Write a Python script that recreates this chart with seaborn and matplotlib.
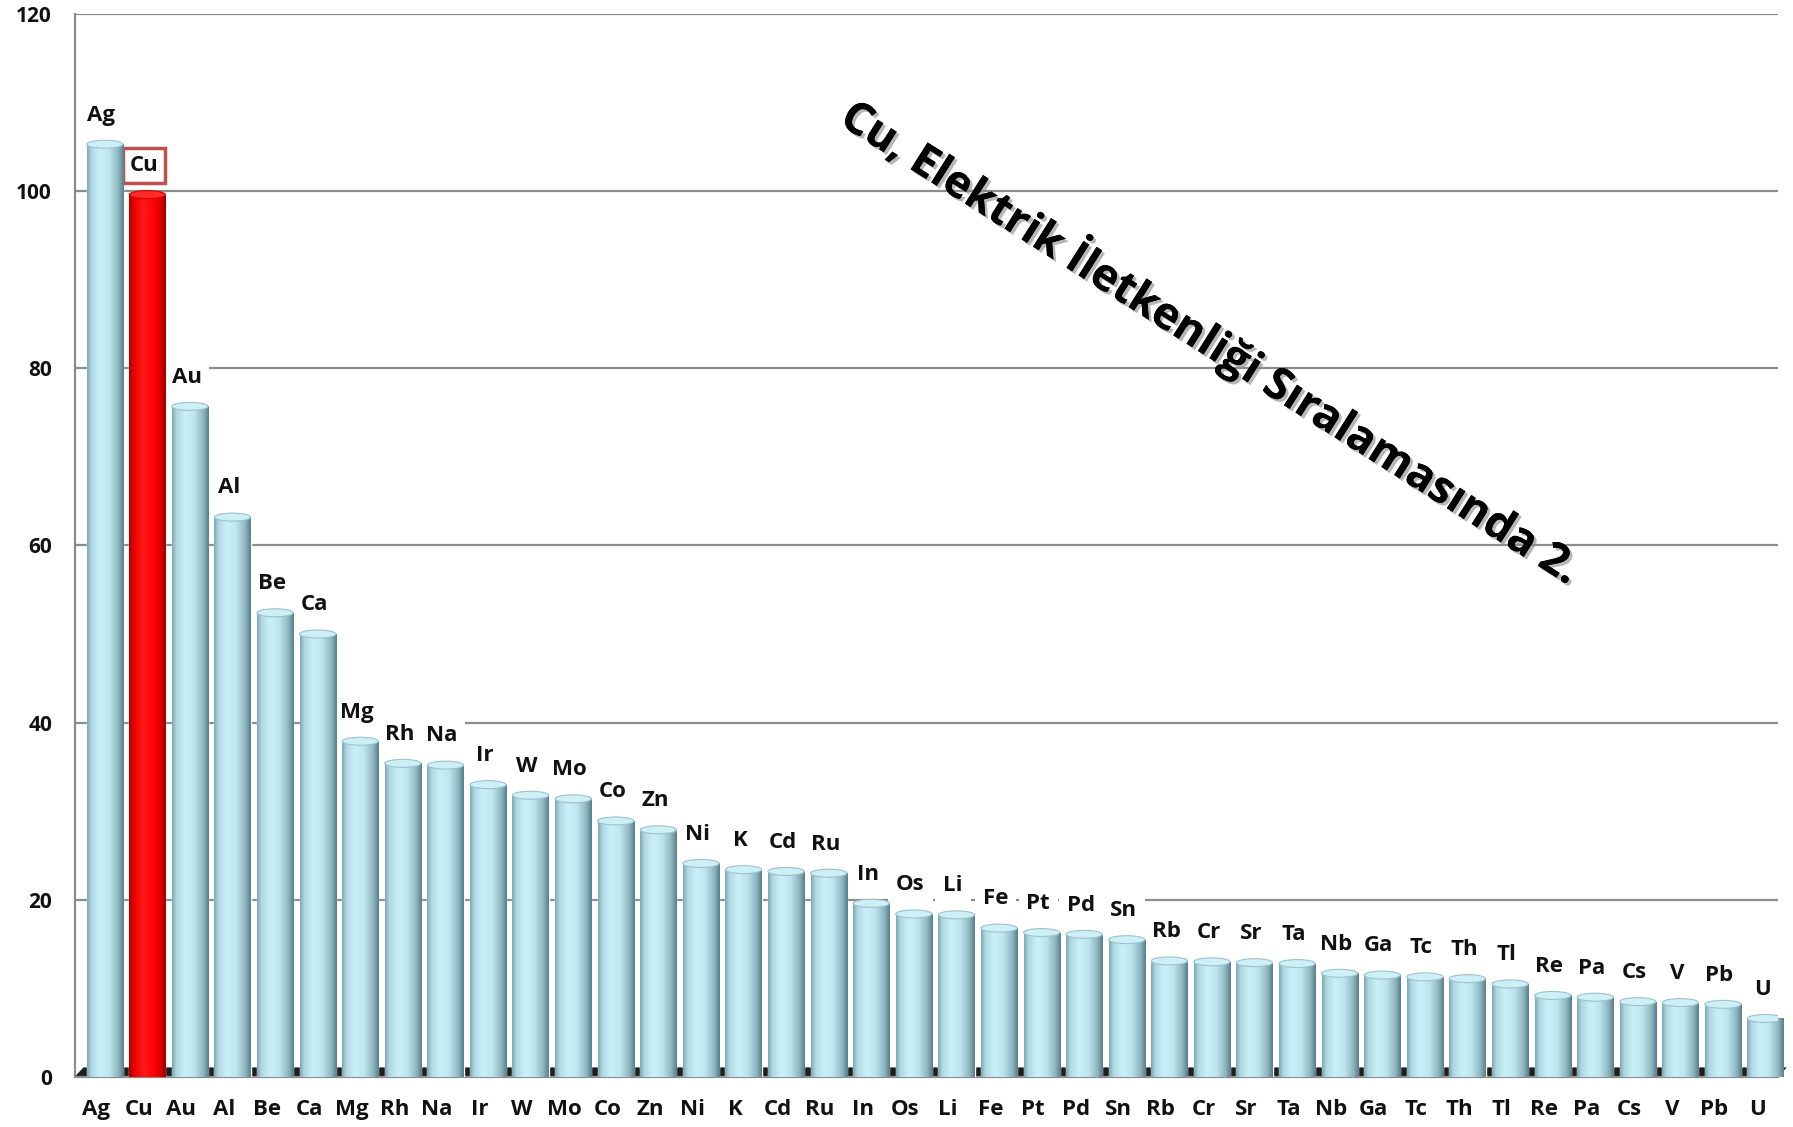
import numpy as np
import pandas as pd
import seaborn as sns
import matplotlib.pyplot as plt
import matplotlib.patheffects as pe
from matplotlib.colors import LinearSegmentedColormap
from matplotlib.patches import Ellipse, Polygon

# relative electrical conductivity (Cu ~ 100)
elements = ['Ag', 'Cu', 'Au', 'Al', 'Be', 'Ca', 'Mg', 'Rh', 'Na', 'Ir',
            'W', 'Mo', 'Co', 'Zn', 'Ni', 'K', 'Cd', 'Ru', 'In', 'Os',
            'Li', 'Fe', 'Pt', 'Pd', 'Sn', 'Rb', 'Cr', 'Sr', 'Ta', 'Nb',
            'Ga', 'Tc', 'Th', 'Tl', 'Re', 'Pa', 'Cs', 'V', 'Pb', 'U']
conductivity = [105.3, 99.6, 75.7, 63.2, 52.4, 50.0, 37.9, 35.4, 35.2, 33.0,
                31.8, 31.4, 28.9, 27.9, 24.1, 23.4, 23.2, 23.0, 19.6, 18.4,
                18.3, 16.8, 16.3, 16.1, 15.5, 13.1, 13.0, 12.9, 12.8, 11.7,
                11.5, 11.3, 11.1, 10.5, 9.2, 9.0, 8.5, 8.4, 8.2, 6.6]
highlight = 'Cu'
yticks = [0, 20, 40, 60, 80, 100, 120]
note = 'Cu, Elektrik İletkenliği Sıralamasında 2.'

sns.set_theme(style='white')
plt.rcParams['font.family'] = ['Open Sans', 'DejaVu Sans']

df = pd.DataFrame({'element': elements, 'value': conductivity})
palette = {e: ('#ff0000' if e == highlight else '#bfe6ef') for e in elements}

fig = plt.figure(figsize=(17.93, 11.27), dpi=100)
ax = fig.add_axes([0.0418, 0.0444, 0.95, 0.9432])

sns.barplot(data=df, x='element', y='value', hue='element', palette=palette,
            width=0.85, saturation=1, legend=False, ax=ax, zorder=3)

# cylinder look: horizontal gradient clipped to each bar + a cap on top
blue_cmap = LinearSegmentedColormap.from_list('cyl_blue', [
    (0.0, '#7ea6b1'), (0.12, '#afd8e2'), (0.35, '#c9f0f9'),
    (0.6, '#bde6ef'), (0.85, '#8db6c0'), (1.0, '#587e88')])
red_cmap = LinearSegmentedColormap.from_list('cyl_red', [
    (0.0, '#b00000'), (0.15, '#ee0000'), (0.4, '#ff1a1a'),
    (0.7, '#ff0000'), (0.9, '#cc0000'), (1.0, '#990000')])
grad = np.linspace(0, 1, 256).reshape(1, -1)

bars = sorted(list(ax.patches), key=lambda p: p.get_x())
for patch, el in zip(bars, elements):
    x0, w, h = patch.get_x(), patch.get_width(), patch.get_height()
    cmap = red_cmap if el == highlight else blue_cmap
    im = ax.imshow(grad, cmap=cmap, extent=(x0, x0 + w, 0, h), aspect='auto',
                   interpolation='bicubic', zorder=4)
    im.set_clip_path(patch)
    if el == highlight:
        cap_fc, cap_ec = '#ff2a2a', '#cc0000'
    else:
        cap_fc, cap_ec = '#cdeff6', '#9dc2cb'
    ax.add_patch(Ellipse((x0 + w / 2, h), w, 0.9, facecolor=cap_fc,
                         edgecolor=cap_ec, linewidth=0.8, zorder=5))

# labels above the bars (white box hides the gridlines behind them)
for i, (el, v) in enumerate(zip(elements, conductivity)):
    if el == highlight:
        bbox = dict(boxstyle='square,pad=0.3', facecolor='white',
                    edgecolor='#c0504d', linewidth=2.5)
    else:
        bbox = dict(boxstyle='square,pad=0.35', facecolor='white', edgecolor='none')
    ax.annotate(el, (i - 0.08, v), xytext=(0, 21), textcoords='offset points',
                ha='center', va='center', fontsize=16, fontweight='bold',
                color='#111111', bbox=bbox, zorder=3.5)

# dark floor under the bars
floor = Polygon([(-0.7, 0.0005), (39.3, 0.0005), (39.5, 0.009), (-0.5, 0.009)],
                closed=True, facecolor='#1e1e1e', edgecolor='none',
                transform=ax.get_xaxis_transform(), clip_on=False, zorder=2)
ax.add_patch(floor)

# the 3D wall puts the bars a bit to the right of the category labels
ax.set_xlim(-0.7, 39.3)
ax.set_ylim(0, 120)
ax.set_yticks(yticks)
ax.set_xticks(np.arange(len(elements)) - 0.2)
ax.set_xticklabels(elements)
ax.set_xticks(np.arange(len(elements) + 1) - 0.7, minor=True)
ax.set_xlabel('')
ax.set_ylabel('')

ax.set_axisbelow(True)
ax.grid(axis='y', color='#8c8c8c', linewidth=1.6)
ax.grid(axis='x', visible=False)

for side in ['top', 'right']:
    ax.spines[side].set_visible(False)
ax.spines['left'].set_color('#8c8c8c')
ax.spines['left'].set_linewidth(1.6)
ax.spines['bottom'].set_color('#8c8c8c')
ax.spines['bottom'].set_linewidth(1.6)

ax.tick_params(axis='y', which='major', direction='out', length=6.5, width=1.6,
               color='#8c8c8c', pad=10, labelsize=15)
ax.tick_params(axis='x', which='major', length=0, pad=16, labelsize=16)
ax.tick_params(axis='x', which='minor', direction='out', length=6, width=1.6,
               color='#8c8c8c')
for lab in ax.get_xticklabels() + ax.get_yticklabels():
    lab.set_fontweight('bold')
    lab.set_color('#111111')

fig.text(0.676, 0.697, note, rotation=-32.3, rotation_mode='anchor',
         ha='center', va='center', fontsize=32, fontweight='bold', color='black',
         path_effects=[pe.withSimplePatchShadow(offset=(2, -2), shadow_rgbFace='#888888', alpha=0.6),
                       pe.Normal()])

fig.savefig('out.png', dpi=100)
plt.close(fig)
